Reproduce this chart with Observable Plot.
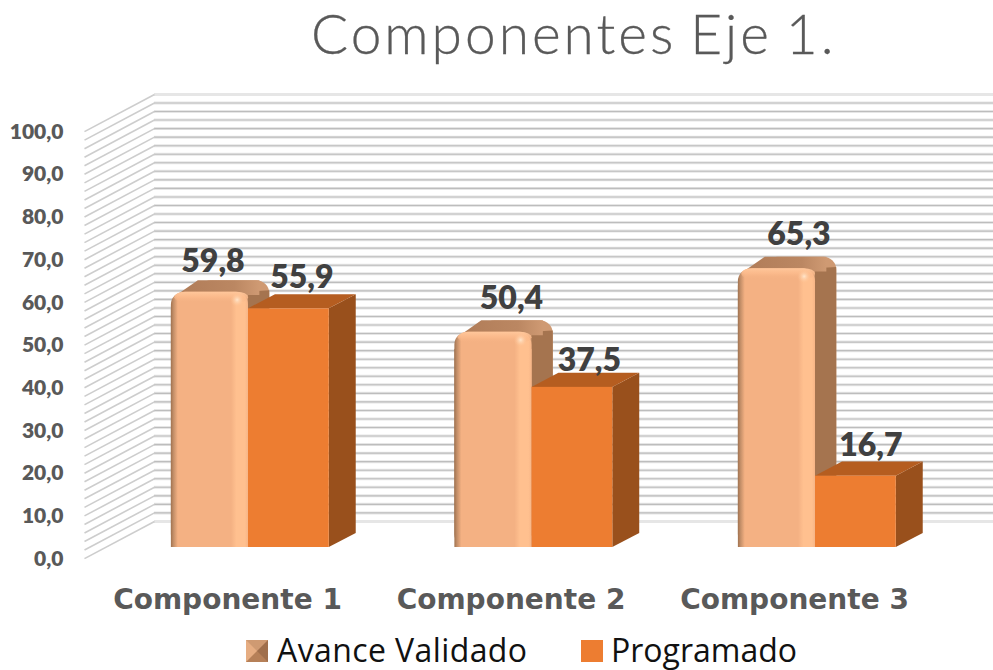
<!DOCTYPE html>
<html>
<head>
<meta charset="utf-8">
<script src="https://cdn.jsdelivr.net/npm/d3@7"></script>
<script src="https://cdn.jsdelivr.net/npm/@observablehq/plot@0.6"></script>
<style>
html,body{margin:0;padding:0;background:#fff}
#title{height:70px;box-sizing:border-box;padding-left:311px;font:300 55px/66px Lato,sans-serif;letter-spacing:3px;word-spacing:-4px;color:#595959;white-space:nowrap;-webkit-text-stroke:0.3px #595959}
#chart svg{display:block}
#legend{position:relative;height:50px;font:32px "Open Sans",sans-serif;color:#111}
#legend .sw{position:absolute;top:20px;width:0;height:0;box-sizing:content-box}
#legend .txt{position:absolute;top:10px;line-height:40px;white-space:nowrap}
</style>
</head>
<body>
<div id="title">Componentes Eje 1.</div>
<div id="chart"></div>
<div id="legend"></div>
<script>
const categories = ["Componente 1", "Componente 2", "Componente 3"];
const avanceValidado = [59.8, 50.4, 65.3];
const programado = [55.9, 37.5, 16.7];
const yTicks = [0, 10, 20, 30, 40, 50, 60, 70, 80, 90, 100];
const gridValues = d3.range(0, 101, 2);
const seriesNames = ["Avance Validado", "Programado"];

// data-label nudges, in pixels, kept apart from the values
const labelNudgeA = [[3, -30], [18, -34], [22, -34]];
const labelNudgeP = [[13, -31], [17, -27], [15, -30]];

// 3D projection in scale units
const lightW = 0.272, orangeW = 0.285;
const oDx = 0.095, oDy = 3.3;      // orange depth
const lDx = 0.075, lDy = 2.7;      // light bar depth
const backDy = 6.1, frontDy = -2.6; // walls
const backX = -0.3316, frontX = -0.5785, rightX = 2.63;
const cr = 0.035, crY = 2.4;

const fmt = d => d.toFixed(1).replace(".", ",");

const light = avanceValidado.map((v, i) => ({i, v, l: i - lightW, r: i}));
const orange = programado.map((v, i) => ({i, v, l: i, r: i + orangeW}));

const lSide = light.flatMap(b => [
  {id: b.i, x: b.r, y1: 0, y2: b.v},
  {id: b.i, x: b.r + lDx, y1: lDy, y2: b.v + lDy - crY}
]);
const lTop = light.flatMap(b => [
  {id: b.i, x: b.l + 0.02, y1: b.v - 0.8, y2: b.v - 0.8},
  {id: b.i, x: b.l + 0.02 + lDx, y1: b.v - 0.8, y2: b.v + lDy},
  {id: b.i, x: b.r + lDx - cr, y1: b.v - 0.8, y2: b.v + lDy}
]);
const oSide = orange.flatMap(b => [
  {id: b.i, x: b.r, y1: 0, y2: b.v},
  {id: b.i, x: b.r + oDx, y1: oDy, y2: b.v + oDy}
]);
const oTop = orange.flatMap(b => [
  {id: b.i, x: b.l, y1: b.v, y2: b.v},
  {id: b.i, x: b.l + oDx, y1: b.v, y2: b.v + oDy},
  {id: b.i, x: b.r, y1: b.v, y2: b.v + oDy},
  {id: b.i, x: b.r + oDx, y1: b.v + oDy, y2: b.v + oDy}
]);

const defs = () => {
  const d = d3.create("svg:defs");
  const grad = (id, stops, vertical) => {
    const g = d.append("linearGradient").attr("id", id)
      .attr("x1", 0).attr("y1", 0).attr("x2", vertical ? 0 : 1).attr("y2", vertical ? 1 : 0);
    stops.forEach(([o, c, a]) => g.append("stop").attr("offset", o).attr("stop-color", c).attr("stop-opacity", a ?? 1));
  };
  grad("lightFront", [[0, "#a0724f"], [0.03, "#c08c66"], [0.09, "#f4b183"], [0.78, "#f4b183"], [0.85, "#ffc08f"], [0.96, "#ffc08f"], [1, "#f6b587"]]);
  grad("topBevel", [[0, "#ffc79b"], [0.5, "#fcbb8c", 0.8], [1, "#f4b183", 0]], true);
  grad("lightTop", [[0, "#b07c58"], [0.7, "#bb8762"], [1, "#cf9a73"]]);
  const glint = d.append("radialGradient").attr("id", "glint");
  glint.append("stop").attr("offset", 0).attr("stop-color", "#ffe6cc");
  glint.append("stop").attr("offset", 1).attr("stop-color", "#ffc08f").attr("stop-opacity", 0);
  return d.node();
};

document.getElementById("chart").append(Plot.plot({
  width: 993, height: 550,
  marginLeft: 63, marginRight: 0, marginTop: 50, marginBottom: 73,
  x: {type: "linear", domain: [0, 2], range: [248, 815], axis: null},
  y: {domain: [0, 100], axis: null},
  style: {background: "transparent", overflow: "visible"},
  marks: [
    defs,
    // back wall and left wall
    Plot.ruleY(gridValues, {y: d => d + backDy, x1: backX, x2: rightX, stroke: "#e6e6e6", strokeWidth: 3}),
    Plot.ruleY(gridValues, {y: d => d + backDy, x1: backX, x2: rightX, stroke: "#bdbdbd", strokeWidth: 1.1, strokeOpacity: d => d === 0 || d === 100 ? 0 : 1}),
    Plot.link(gridValues, {x1: frontX, x2: backX, y1: d => d + frontDy, y2: d => d + backDy, stroke: "#cdcdcd", strokeWidth: 1.6}),

    // Avance Validado: rounded bevelled bars
    Plot.rect(light, {x1: d => d.l + lDx + 0.02, x2: d => d.r + lDx, y1: lDy, y2: d => d.v + lDy, fill: "#cf9a73", rx: 13, ry: 13}),
    Plot.area(lSide, {x1: "x", y1: "y1", y2: "y2", z: "id", fill: "#a5744f"}),
    Plot.area(lTop, {x1: "x", y1: "y1", y2: "y2", z: "id", fill: "url(#lightTop)"}),
    Plot.rect(light, {x1: "l", x2: "r", y1: 0, y2: "v", fill: "url(#lightFront)", rx: 13, ry: 13}),
    Plot.rect(light, {x1: "l", x2: "r", y1: 0, y2: d => d.v - 4, fill: "url(#lightFront)"}),
    Plot.rect(light, {x1: d => d.l + 0.012, x2: d => d.r, y1: d => d.v - 2.6, y2: "v", fill: "url(#topBevel)", rx: 11, ry: 11}),
    Plot.dot(light, {x: d => d.r - 0.04, y: d => d.v - 1.8, r: 7, fill: "url(#glint)"}),

    // Programado: plain boxes
    Plot.area(oSide, {x1: "x", y1: "y1", y2: "y2", z: "id", fill: "#99501c"}),
    Plot.area(oTop, {x1: "x", y1: "y1", y2: "y2", z: "id", fill: "#b55d20"}),
    Plot.rect(orange, {x1: "l", x2: "r", y1: 0, y2: "v", fill: "#ed7d31"}),

    // axes
    Plot.axisY({ticks: yTicks, tickFormat: fmt, tickSize: 0, tickPadding: 0, dy: 11.5, label: null,
      fontFamily: "Lato, sans-serif", fontWeight: 800, fontSize: 21, color: "#595959"}),
    Plot.axisX({ticks: [0, 1, 2], tickFormat: i => categories[i], tickSize: 0, tickPadding: 0, dx: -21, dy: 42, label: null,
      fontFamily: "DejaVu Sans, sans-serif", fontWeight: 700, fontSize: 28, color: "#595959"}),

    // data labels
    ...light.map((b, k) => Plot.text([b], {x: d => d.i - lightW / 2, y: "v", text: d => fmt(d.v), dx: labelNudgeA[k][0], dy: labelNudgeA[k][1],
      fontFamily: "Lato, sans-serif", fontWeight: 800, fontSize: 32, fill: "#404040"})),
    ...orange.map((b, k) => Plot.text([b], {x: d => d.i + orangeW / 2, y: "v", text: d => fmt(d.v), dx: labelNudgeP[k][0], dy: labelNudgeP[k][1],
      fontFamily: "Lato, sans-serif", fontWeight: 800, fontSize: 32, fill: "#404040"}))
  ]
}));

const legend = d3.select("#legend");
legend.append("div").attr("class", "sw").style("left", "246px")
  .style("border-style", "solid").style("border-width", "11px")
  .style("border-color", "#cf9a72 #a06f4c #b68058 #e6ad82");
legend.append("div").attr("class", "txt").style("left", "277px").style("letter-spacing", "0.4px").text(seriesNames[0]);
legend.append("div").attr("class", "sw").style("left", "581px")
  .style("border", "11px solid #ed7d31");
legend.append("div").attr("class", "txt").style("left", "611px").text(seriesNames[1]);
</script>
</body>
</html>
